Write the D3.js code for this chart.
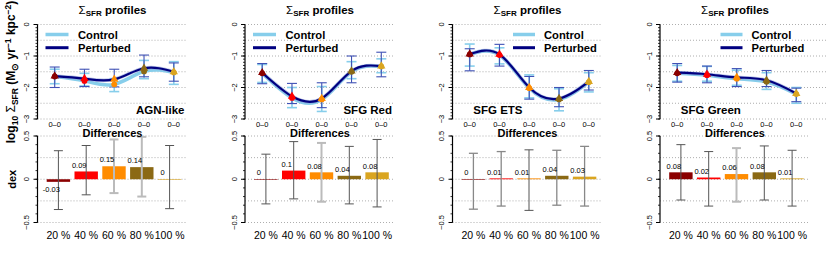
<!DOCTYPE html>
<html>
<head>
<meta charset="utf-8">
<script src="https://cdn.jsdelivr.net/npm/d3@7/dist/d3.min.js"></script>
<style>
  body { margin: 0; background: #fff; }
  svg { font-family: "Liberation Sans", Arial, Helvetica, sans-serif; }
</style>
</head>
<body>
<div id="chart"></div>
<script>
// ---- data ----
var panelNames = ["AGN-like", "SFG Red", "SFG ETS", "SFG Green"];
var binLabels = ["0–0", "0–0", "0–0", "0–0", "0–0"];
var pctLabels = ["20 %", "40 %", "60 %", "80 %", "100 %"];
var binColors = ["#8B0000", "#FF0000", "#FF8C00", "#8B6914", "#DAA520"];

// log10 Sigma_SFR profiles (perturbed = triangles / navy, control = circles / skyblue)
var pertValues = [
  [-1.64, -1.72, -1.74, -1.39, -1.50],
  [-1.53, -2.28, -2.35, -1.48, -1.32],
  [-0.94, -0.95, -2.00, -2.35, -1.81],
  [-1.53, -1.58, -1.68, -1.77, -2.19]
];
var ctrlValues = [
  [-1.65, -1.79, -1.90, -1.49, -1.52],
  [-1.55, -2.33, -2.38, -1.50, -1.33],
  [-0.95, -0.97, -2.02, -2.38, -1.83],
  [-1.55, -1.61, -1.72, -1.82, -2.21]
];
var pertErrHi = [
  [-1.35, -1.42, -1.42, -0.97, -1.22],
  [-1.24, -1.87, -1.85, -1.00, -0.88],
  [-0.77, -0.63, -1.65, -2.00, -1.46],
  [-1.24, -1.32, -1.40, -1.46, -2.02]
];
var pertErrLo = [
  [-2.00, -1.97, -1.98, -1.66, -1.80],
  [-1.88, -2.51, -2.64, -1.85, -1.66],
  [-1.47, -1.32, -2.37, -2.61, -2.08],
  [-1.83, -1.85, -1.97, -1.97, -2.45]
];
var ctrlErrHi = [
  [-1.42, -1.55, -1.72, -1.14, -1.18],
  [-1.27, -2.00, -1.97, -1.18, -1.09],
  [-0.62, -0.74, -1.60, -2.04, -1.53],
  [-1.30, -1.33, -1.45, -1.53, -2.00]
];
var ctrlErrLo = [
  [-1.88, -1.95, -2.13, -1.72, -1.90],
  [-1.84, -2.64, -2.76, -1.72, -1.53],
  [-1.32, -1.25, -2.33, -2.74, -2.14],
  [-1.80, -1.80, -1.93, -2.06, -2.50]
];

// differences (dex)
var diffValues = [
  [-0.03, 0.09, 0.15, 0.14, 0],
  [0, 0.10, 0.08, 0.04, 0.08],
  [0, 0.01, 0.01, 0.04, 0.03],
  [0.08, 0.02, 0.06, 0.08, 0.01]
];
var diffErrHi = [
  [0.33, 0.39, 0.46, 0.49, 0.39],
  [0.29, 0.435, 0.42, 0.38, 0.46],
  [0.30, 0.32, 0.34, 0.335, 0.38],
  [0.40, 0.32, 0.36, 0.385, 0.335]
];
var diffErrLo = [
  [-0.35, -0.18, -0.16, -0.20, -0.34],
  [-0.285, -0.227, -0.26, -0.285, -0.32],
  [-0.346, -0.31, -0.36, -0.30, -0.31],
  [-0.24, -0.31, -0.26, -0.24, -0.31]
];
var diffErrTone = [
  ["d", "d", "l", "l", "d"],
  ["d", "d", "l", "d", "d"],
  ["m", "m", "d", "m", "m"],
  ["d", "d", "l", "d", "d"]
];

var topTicks = [0, -1, -2, -3];
var topGrid = [0, -0.5, -1, -1.5, -2, -2.5, -3];
var botTicks = [0.5, 0, -0.5];
var botGrid = [0.5, 0.25, 0, -0.25, -0.5];

// ---- layout ----
var W = 830, H = 256, panelW = 207.5;
var axisX = 37.5, plotR = 187.5;

var svg = d3.select("#chart").append("svg")
  .attr("width", W).attr("height", H);

var x = d3.scaleLinear().domain([1, 5]).range([54.7, 173.8]);
var yTop = d3.scaleLinear().domain([0, -3]).range([24.5, 119]);
var yBot = d3.scaleLinear().domain([0.5, -0.5]).range([136, 222.5]);
var xBar = d3.scaleBand().domain(pctLabels).range([44.5, 183.5])
  .paddingInner(0.158).paddingOuter(0.079);

var toneStroke = { d: "#555", l: "#bbb", m: "#888" };
var toneWidth = { d: 1, l: 2, m: 1.3 };

function fmtMinus(v) { return String(v).replace("-", "\u2212"); }

function drawYAxis(g, scale, ticks, minorStep, domain) {
  g.append("line")
    .attr("x1", axisX).attr("x2", axisX)
    .attr("y1", scale(domain[0])).attr("y2", scale(domain[1]))
    .attr("stroke", "#000").attr("stroke-width", 1.2);
  var minors = d3.range(Math.round(domain[1] / minorStep), Math.round(domain[0] / minorStep) + 1)
    .map(function (k) { return k * minorStep; });
  g.selectAll(null).data(minors).enter().append("line")
    .attr("x1", axisX - 2).attr("x2", axisX)
    .attr("y1", function (d) { return scale(d); })
    .attr("y2", function (d) { return scale(d); })
    .attr("stroke", "#000").attr("stroke-width", 0.8);
  g.selectAll(null).data(ticks).enter().append("line")
    .attr("x1", axisX - 4).attr("x2", axisX)
    .attr("y1", function (d) { return scale(d); })
    .attr("y2", function (d) { return scale(d); })
    .attr("stroke", "#000").attr("stroke-width", 1);
  g.selectAll(null).data(ticks).enter().append("text")
    .attr("transform", function (d) { return "translate(29," + scale(d) + ") rotate(-90)"; })
    .attr("text-anchor", "middle")
    .attr("font-size", 7.5)
    .text(function (d) { return fmtMinus(d); });
}

function drawGrid(g, scale, vals, right) {
  g.selectAll(null).data(vals).enter().append("line")
    .attr("x1", axisX).attr("x2", right)
    .attr("y1", function (d) { return scale(d); })
    .attr("y2", function (d) { return scale(d); })
    .attr("stroke", "#999").attr("stroke-width", 0.8)
    .attr("stroke-dasharray", "1,2");
}

function errBar(g, cx, y1, y2, color, width, capW) {
  g.append("line").attr("x1", cx).attr("x2", cx).attr("y1", y1).attr("y2", y2)
    .attr("stroke", color).attr("stroke-width", width);
  [y1, y2].forEach(function (yy) {
    g.append("line").attr("x1", cx - capW / 2).attr("x2", cx + capW / 2)
      .attr("y1", yy).attr("y2", yy)
      .attr("stroke", color).attr("stroke-width", width);
  });
}

panelNames.forEach(function (name, p) {
  var g = svg.append("g").attr("transform", "translate(" + (p * panelW) + ",0)");
  var rightLegend = p >= 2;

  // ---------- top: profiles ----------
  drawGrid(g, yTop, topGrid, p === 3 ? W - p * panelW - 2 : plotR);
  drawYAxis(g, yTop, topTicks, 0.1, [0, -3]);

  var idx = d3.range(5);
  // error bars: control (light) then perturbed (dark)
  idx.forEach(function (i) {
    errBar(g, x(i + 1), yTop(ctrlErrHi[p][i]), yTop(ctrlErrLo[p][i]), "#87CEEB", 1.6, 10);
    errBar(g, x(i + 1), yTop(pertErrHi[p][i]), yTop(pertErrLo[p][i]), "#3F51B5", 1.1, 10);
  });

  var line = d3.line()
    .x(function (d, i) { return x(i + 1); })
    .y(function (d) { return yTop(d); })
    .curve(d3.curveNatural);

  g.append("path").datum(ctrlValues[p]).attr("d", line)
    .attr("fill", "none").attr("stroke", "#87CEEB").attr("stroke-width", 3.5);
  g.append("path").datum(pertValues[p]).attr("d", line)
    .attr("fill", "none").attr("stroke", "#8FA0D8").attr("stroke-width", 3.6).attr("opacity", 0.6);
  g.append("path").datum(pertValues[p]).attr("d", line)
    .attr("fill", "none").attr("stroke", "#000080").attr("stroke-width", 2.2);

  g.selectAll(null).data(ctrlValues[p]).enter().append("circle")
    .attr("cx", function (d, i) { return x(i + 1); })
    .attr("cy", function (d) { return yTop(d); })
    .attr("r", 2.9)
    .attr("fill", function (d, i) { return binColors[i]; });
  g.selectAll(null).data(pertValues[p]).enter().append("path")
    .attr("d", d3.symbol(d3.symbolTriangle, 30))
    .attr("transform", function (d, i) { return "translate(" + x(i + 1) + "," + yTop(d) + ")"; })
    .attr("fill", function (d, i) { return binColors[i]; });

  // x labels
  g.selectAll(null).data(binLabels).enter().append("text")
    .attr("x", function (d, i) { return x(i + 1); })
    .attr("y", 126.5)
    .attr("text-anchor", "middle").attr("font-size", 7.5)
    .text(function (d) { return d; });

  // title
  var t = g.append("text").attr("x", (axisX + plotR) / 2).attr("y", 13.5)
    .attr("text-anchor", "middle").attr("font-size", 11.5).attr("font-weight", "bold");
  t.append("tspan").attr("font-weight", "normal").text("\u03A3");
  t.append("tspan").attr("font-size", 8).attr("dy", 2.5).text("SFR");
  t.append("tspan").attr("dy", -2.5).text(" profiles");

  // legend
  var lx0 = rightLegend ? 98 : 45.5, lx1 = rightLegend ? 120 : 68.5, tx = rightLegend ? 129 : 78;
  var leg = [["Control", "#87CEEB", 3.5], ["Perturbed", "#000080", 3]];
  leg.forEach(function (d, k) {
    var ly = 34.5 + k * 13.2;
    g.append("line").attr("x1", lx0).attr("x2", lx1).attr("y1", ly).attr("y2", ly)
      .attr("stroke", d[1]).attr("stroke-width", d[2]);
    g.append("text").attr("x", tx).attr("y", ly + 4.2)
      .attr("font-size", 11.2).attr("font-weight", "bold").text(d[0]);
  });

  // panel name
  g.append("text")
    .attr("x", rightLegend ? 58.3 : 184.5)
    .attr("y", 114)
    .attr("text-anchor", rightLegend ? "start" : "end")
    .attr("font-size", 11.5).attr("font-weight", "bold")
    .text(name);

  // ---------- bottom: differences ----------
  drawGrid(g, yBot, botGrid, plotR);
  drawYAxis(g, yBot, botTicks, 0.1, [0.5, -0.5]);

  pctLabels.forEach(function (lab, i) {
    var v = diffValues[p][i];
    g.append("rect")
      .attr("x", xBar(lab))
      .attr("width", xBar.bandwidth())
      .attr("y", yBot(Math.max(v, 0)))
      .attr("height", Math.max(Math.abs(yBot(v) - yBot(0)), 0.6))
      .attr("fill", binColors[i]);
  });
  pctLabels.forEach(function (lab, i) {
    var cx = xBar(lab) + xBar.bandwidth() / 2;
    var tone = diffErrTone[p][i];
    errBar(g, cx, yBot(diffErrHi[p][i]), yBot(diffErrLo[p][i]), toneStroke[tone], toneWidth[tone], 9);
  });
  g.selectAll(null).data(diffValues[p]).enter().append("text")
    .attr("x", function (d, i) { return xBar(pctLabels[i]) + xBar.bandwidth() / 2 - 7; })
    .attr("y", function (d) { return yBot(d >= 0 ? d + 0.075 : d - 0.082) + 2.7; })
    .attr("text-anchor", "middle").attr("font-size", 7.5)
    .text(function (d) { return String(d); });

  g.selectAll(null).data(pctLabels).enter().append("text")
    .attr("x", function (d) { return xBar(d) + xBar.bandwidth() / 2; })
    .attr("y", 238.5)
    .attr("text-anchor", "middle").attr("font-size", 10.5)
    .text(function (d) { return d; });

  g.append("text").attr("x", (axisX + plotR) / 2).attr("y", 137)
    .attr("text-anchor", "middle").attr("font-size", 11).attr("font-weight", "bold")
    .text("Differences");
});

// axis titles (first panel only)
var yl = svg.append("text")
  .attr("transform", "translate(14.5,72) rotate(-90)")
  .attr("text-anchor", "middle").attr("font-size", 12).attr("font-weight", "bold");
yl.append("tspan").text("log");
yl.append("tspan").attr("font-size", 8.5).attr("dy", 3).text("10");
yl.append("tspan").attr("dy", -3).attr("font-weight", "normal").text(" \u03A3");
yl.append("tspan").attr("font-size", 8.5).attr("dy", 3).text("SFR");
yl.append("tspan").attr("dy", -3).text(" (M");
yl.append("tspan").attr("font-size", 8.5).attr("dy", 3).text("\u2299");
yl.append("tspan").attr("dy", -3).text(" yr");
yl.append("tspan").attr("font-size", 8.5).attr("dy", -4).text("\u22121");
yl.append("tspan").attr("dy", 4).text(" kpc");
yl.append("tspan").attr("font-size", 8.5).attr("dy", -4).text("\u22122");
yl.append("tspan").attr("dy", 4).text(")");

svg.append("text")
  .attr("transform", "translate(15.5,179.3) rotate(-90)")
  .attr("text-anchor", "middle").attr("font-size", 11).attr("font-weight", "bold")
  .text("dex");
</script>
</body>
</html>
